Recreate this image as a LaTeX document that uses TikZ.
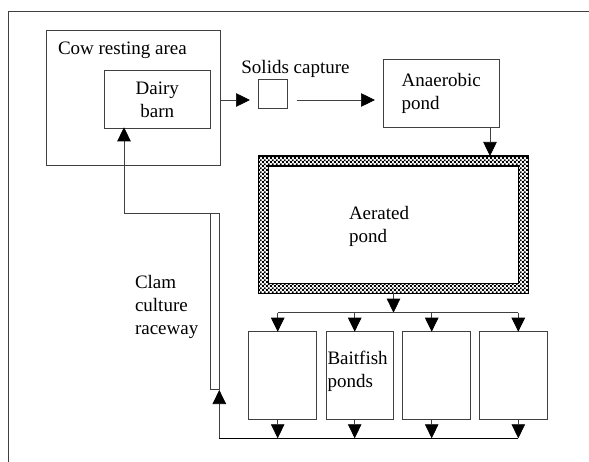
\documentclass[tikz,border=0pt]{standalone}
\usepackage{fontspec}
\setmainfont{Liberation Serif}
\usetikzlibrary{arrows.meta,patterns}
\pgfdeclarepatternformonly{finecheck}{\pgfpointorigin}{\pgfqpoint{3.8pt}{3.8pt}}{\pgfqpoint{3.8pt}{3.8pt}}{%
  \pgfpathrectangle{\pgfpointorigin}{\pgfqpoint{1.9pt}{1.9pt}}%
  \pgfpathrectangle{\pgfqpoint{1.9pt}{1.9pt}}{\pgfqpoint{1.9pt}{1.9pt}}%
  \pgfusepath{fill}}
\begin{document}
\begin{tikzpicture}[x=1pt,y=-1pt,
  box/.style={draw=black!75,line width=0.8pt,rectangle,inner sep=0pt,outer sep=0pt,fill=white},
  lbl/.style={inner sep=0pt,outer sep=0pt,font=\fontsize{19}{23}\selectfont,text=black},
  ln/.style={draw=black!75,line width=0.7pt},
  arr/.style={ln,-{Triangle[length=14pt,width=13.5pt,color=black]}}
]
\useasboundingbox (0,0) rectangle (589,462);
% outer frame
\coordinate (fa) at (589,11);
\coordinate (fb) at (8.3,11);
\coordinate (fc) at (8.3,462);
\draw[ln] (fa) -- (fb) -- (fc);

% boxes
\node[box,minimum width=174pt,minimum height=135pt] (cow) at (133,98.2) {};
\node[lbl,anchor=west] (cowlbl) at (58,50) {Cow resting area};
\node[box,lbl,draw=black!75,line width=0.8pt,minimum width=106.7pt,minimum height=57.6pt,align=center] (barn) at (157.35,99.5) {Dairy\\barn};
\node[box,minimum width=29pt,minimum height=29pt] (solids) at (272.8,93.8) {};
\node[lbl] (solidslbl) at (295.5,69.3) {Solids capture};
\node[box,lbl,draw=black!75,line width=0.8pt,minimum width=116pt,minimum height=68pt,align=left] (anaer) at (441.3,93.3) {Anaerobic\\pond};

% aerated pond with checkered band
\fill[white] (258.5,156) rectangle (528.5,293.5);
\fill[pattern=finecheck,pattern color=black,even odd rule] (258.5,156) rectangle (528.5,293.5) (268.5,166) rectangle (518.5,283.5);
\node[draw=black,line width=1.1pt,inner sep=0pt,outer sep=0pt,minimum width=270pt,minimum height=137.5pt] (aer) at (393.5,224.75) {};
\node[draw=black,line width=1.1pt,inner sep=0pt,outer sep=0pt,minimum width=250pt,minimum height=117.5pt] (aerin) at (393.5,224.75) {};
\node[lbl,anchor=west,align=left] (aerlbl) at (349,226.5) {Aerated\\pond};

% baitfish ponds
\node[box,minimum width=67.7pt,minimum height=87.3pt] (p1) at (282.15,375.35) {};
\node[box,minimum width=67.3pt,minimum height=87.3pt] (p2) at (359.65,375.35) {};
\node[box,minimum width=67.3pt,minimum height=87.3pt] (p3) at (436.35,375.35) {};
\node[box,minimum width=68pt,minimum height=87.3pt] (p4) at (513.3,375.35) {};
\node[lbl,anchor=west,align=left] (baitlbl) at (327.5,371.3) {Baitfish\\ponds};

\node[lbl,anchor=west,align=left] (clamlbl) at (135,306.7) {Clam\\culture\\raceway};

% top flow
\coordinate (s0) at (220,100);
\coordinate (s1) at (250,100);
\draw[arr] (s0) -- (s1);
\coordinate (t0) at (296.7,100);
\coordinate (t1) at (375,100);
\draw[arr] (t0) -- (t1);
\coordinate (an) at (490,127.3);
\draw[arr] (an) -- (an |- aer.north);

% distribution
\coordinate (dist) at (393.5,312.7);
\draw[arr] (aer.south) -- (dist);
\coordinate (d1) at (277.7,312.7);
\coordinate (d2) at (354.7,312.7);
\coordinate (d3) at (431.7,312.7);
\coordinate (d4) at (518.3,312.7);
\draw[ln] (d1) -- (d4);
\foreach \i in {1,2,3,4} {\draw[arr] (d\i) -- (d\i |- p\i.north);}

% collection
\coordinate (c1) at (277.7,438.3);
\coordinate (c2) at (354.7,438.3);
\coordinate (c3) at (431.7,438.3);
\coordinate (c4) at (518.3,438.3);
\foreach \i in {1,2,3,4} {\draw[arr] (c\i |- p\i.south) -- (c\i);}
\coordinate (c0) at (219.3,438.3);
\draw[ln,line width=0.9pt,draw=black] (c0) -- (c4);

% return through raceway
\coordinate (rA) at (219.3,390);
\coordinate (rB) at (219.3,213.3);
\coordinate (rC) at (124,213.3);
\coordinate (rD) at (124,127.3);
\draw[arr] (c0) -- (rA);
\draw[ln] (rA) -- (rB) -- (rC);
\draw[arr] (rC) -- (rD);
\coordinate (iA) at (210.7,213.3);
\coordinate (iB) at (210.7,389.3);
\coordinate (iC) at (219.3,389.3);
\draw[ln] (iA) -- (iB) -- (iC);
\end{tikzpicture}
\end{document}
